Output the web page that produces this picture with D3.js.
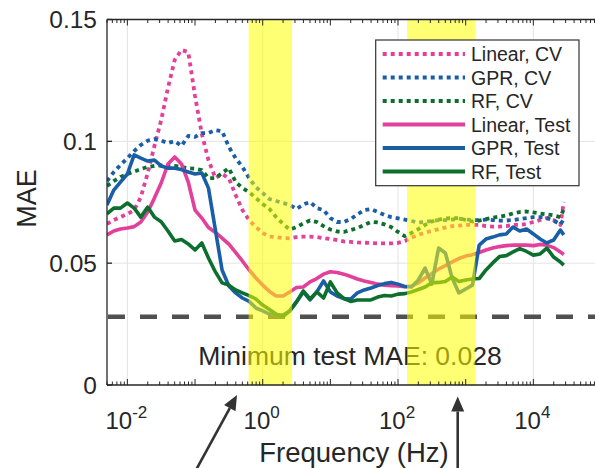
<!DOCTYPE html>
<html><head><meta charset="utf-8">
<script src="https://cdn.jsdelivr.net/npm/d3@7"></script>
<style>
body{margin:0;background:#fff}
svg{display:block}
text{font-family:"Liberation Sans",Arial,Helvetica,sans-serif;fill:#262626}
</style>
</head><body>
<svg id="c" width="595" height="468"></svg>
<script>
// ---------------- data ----------------
const freq = [0.005,0.0063,0.0079,0.01,0.0126,0.0158,0.02,0.0251,0.0316,0.0398,
  0.0501,0.0631,0.0794,0.1,0.126,0.158,0.2,0.251,0.316,0.398,
  0.501,0.631,0.794,1,1.26,1.58,2,2.51,3.16,3.98,
  5.01,6.31,7.94,10,12.6,15.8,20,25.1,31.6,39.8,
  50.1,63.1,79.4,100,126,158,200,251,316,398,
  501,631,794,1000,1259,1585,1995,2512,3162,3981,
  5012,6310,7943,10000,12589,15849,19953,25119,28184];

const linearCV = [0.0661,0.0677,0.0689,0.0702,0.0718,0.0771,0.0870,0.0981,0.1087,0.1219,
  0.1334,0.1375,0.1366,0.1186,0.1030,0.0923,0.0849,0.0866,0.0849,0.0780,
  0.0718,0.0677,0.0648,0.0624,0.0609,0.0607,0.0603,0.0602,0.0607,0.0609,
  0.0609,0.0607,0.0603,0.0599,0.0595,0.0589,0.0587,0.0585,0.0584,0.0583,
  0.0581,0.0581,0.0581,0.0583,0.0591,0.0605,0.0616,0.0626,0.0632,0.0640,
  0.0646,0.0652,0.0654,0.0657,0.0657,0.0657,0.0652,0.0650,0.0650,0.0652,
  0.0657,0.0657,0.0661,0.0669,0.0677,0.0685,0.0677,0.0657,0.0751];

const gprCV = [0.0837,0.0874,0.0903,0.0931,0.0960,0.0985,0.1003,0.1009,0.1003,0.0993,
  0.1001,0.0981,0.1022,0.1018,0.1034,0.1034,0.1046,0.1042,0.0977,0.0931,
  0.0895,0.0849,0.0812,0.0788,0.0763,0.0755,0.0747,0.0739,0.0722,0.0741,
  0.0751,0.0726,0.0718,0.0685,0.0669,0.0669,0.0681,0.0700,0.0718,0.0722,
  0.0710,0.0698,0.0689,0.0684,0.0679,0.0673,0.0667,0.0669,0.0673,0.0677,
  0.0677,0.0679,0.0683,0.0679,0.0677,0.0677,0.0679,0.0677,0.0675,0.0675,
  0.0677,0.0681,0.0685,0.0689,0.0689,0.0685,0.0675,0.0659,0.0681];

const rfCV = [0.0817,0.0837,0.0854,0.0866,0.0876,0.0886,0.0895,0.0899,0.0901,0.0899,
  0.0899,0.0895,0.0890,0.0888,0.0882,0.0849,0.0849,0.0870,0.0890,0.0833,
  0.0808,0.0792,0.0767,0.0743,0.0722,0.0689,0.0661,0.0638,0.0648,0.0663,
  0.0675,0.0669,0.0652,0.0638,0.0630,0.0628,0.0636,0.0644,0.0657,0.0669,
  0.0667,0.0659,0.0648,0.0628,0.0611,0.0624,0.0640,0.0657,0.0671,0.0679,
  0.0683,0.0685,0.0685,0.0677,0.0671,0.0675,0.0681,0.0687,0.0691,0.0696,
  0.0704,0.0710,0.0712,0.0708,0.0704,0.0700,0.0696,0.0689,0.0722];

const linearTest = [0.0616,0.0632,0.0640,0.0644,0.0650,0.0669,0.0710,0.0767,0.0829,0.0907,
  0.0936,0.0907,0.0833,0.0718,0.0685,0.0646,0.0626,0.0603,0.0578,0.0544,
  0.0509,0.0472,0.0439,0.0410,0.0384,0.0365,0.0365,0.0382,0.0400,0.0402,
  0.0423,0.0437,0.0455,0.0465,0.0462,0.0455,0.0445,0.0435,0.0427,0.0421,
  0.0414,0.0410,0.0408,0.0406,0.0403,0.0406,0.0419,0.0439,0.0458,0.0476,
  0.0490,0.0505,0.0519,0.0529,0.0535,0.0544,0.0554,0.0562,0.0568,0.0572,
  0.0574,0.0574,0.0574,0.0572,0.0577,0.0574,0.0564,0.0546,0.0535];

const gprTest = [0.0739,0.0800,0.0833,0.0866,0.0944,0.0931,0.0919,0.0923,0.0899,0.0890,
  0.0890,0.0884,0.0874,0.0866,0.0870,0.0808,0.0636,0.0472,0.0406,0.0378,
  0.0357,0.0343,0.0316,0.0304,0.0291,0.0287,0.0287,0.0304,0.0341,0.0382,
  0.0349,0.0382,0.0427,0.0382,0.0365,0.0355,0.0353,0.0378,0.0390,0.0398,
  0.0408,0.0416,0.0421,0.0414,0.0404,0.0402,0.0431,0.0480,0.0414,0.0562,
  0.0542,0.0439,0.0378,0.0394,0.0410,0.0574,0.0599,0.0607,0.0616,0.0620,
  0.0648,0.0632,0.0640,0.0620,0.0599,0.0583,0.0595,0.0636,0.0616];

const rfTest = [0.0702,0.0726,0.0726,0.0747,0.0726,0.0689,0.0730,0.0689,0.0670,0.0632,
  0.0591,0.0597,0.0579,0.0554,0.0583,0.0521,0.0464,0.0419,0.0410,0.0390,
  0.0378,0.0367,0.0353,0.0328,0.0310,0.0291,0.0281,0.0304,0.0341,0.0386,
  0.0353,0.0382,0.0357,0.0423,0.0378,0.0355,0.0343,0.0349,0.0349,0.0349,
  0.0361,0.0367,0.0365,0.0373,0.0375,0.0382,0.0392,0.0402,0.0419,0.0421,
  0.0425,0.0443,0.0425,0.0431,0.0435,0.0437,0.0472,0.0501,0.0527,0.0531,
  0.0546,0.0560,0.0548,0.0533,0.0538,0.0562,0.0525,0.0505,0.0492];

const seriesNames = ["Linear, CV","GPR, CV","RF, CV","Linear, Test","GPR, Test","RF, Test"];
const xTickValues = [0.01, 1, 100, 10000];
const xTickExponents = ["-2","0","2","4"];
const yTickValues = [0, 0.05, 0.1, 0.15];
const yTickLabels = ["0","0.05","0.1","0.15"];
const bandRanges = [[0.62, 2.72], [136, 1390]];
const minTestMAE = 0.028;
const annotationText = "Minimum test MAE: 0.028";
const xTitle = "Frequency (Hz)";
const yTitle = "MAE";

// ---------------- layout ----------------
const L = 107, R = 601, T = 19.5, B = 385;
const pink = "#e2409a", blue = "#1b5ea8", green = "#0d6f2e";
const axisCol = "#262626";

const x = d3.scaleLog().domain([0.005, 1e5]).range([L, R]);
const y = d3.scaleLinear().domain([0, 0.15]).range([B, T]);

const svg = d3.select("#c");
svg.append("defs").append("clipPath").attr("id","plot")
  .append("rect").attr("x", L).attr("y", T).attr("width", R - L).attr("height", B - T);

// grid
const grid = svg.append("g").attr("stroke", "#e3e3e3").attr("stroke-width", 1);
xTickValues.forEach(v => grid.append("line")
  .attr("x1", x(v)).attr("x2", x(v)).attr("y1", T).attr("y2", B));
[0.05, 0.1].forEach(v => grid.append("line")
  .attr("x1", L).attr("x2", R).attr("y1", y(v)).attr("y2", y(v)));

// minimum line
svg.append("line").attr("x1", L + 1).attr("x2", R).attr("y1", y(minTestMAE)).attr("y2", y(minTestMAE))
  .attr("stroke", "#505050").attr("stroke-width", 4.5).attr("stroke-dasharray", "17,15");

svg.append("text").attr("x", 350).attr("y", 365).attr("text-anchor", "middle")
  .attr("font-size", 26.5).attr("fill", "#111").text(annotationText);

// series
const series = [
  {v: linearCV, c: pink, d: "4,4"},
  {v: gprCV, c: blue, d: "4,4"},
  {v: rfCV, c: green, d: "4,4"},
  {v: linearTest, c: pink, d: null},
  {v: gprTest, c: blue, d: null},
  {v: rfTest, c: green, d: null}
];
const line = d3.line().x((d, i) => x(freq[i])).y(d => y(d));
const lg = svg.append("g").attr("clip-path", "url(#plot)");
series.forEach(s => {
  lg.append("path").datum(s.v).attr("d", line)
    .attr("fill", "none").attr("stroke", s.c)
    .attr("stroke-width", s.d ? 3.8 : 3.6)
    .attr("stroke-linejoin", "round")
    .attr("stroke-dasharray", s.d);
});

// highlight bands
bandRanges.forEach(b => svg.append("rect")
  .attr("x", x(b[0])).attr("width", x(b[1]) - x(b[0]))
  .attr("y", T).attr("height", B - T)
  .attr("fill", "#ffff00").attr("opacity", 0.55));

// axes
const ax = svg.append("g").attr("stroke", axisCol).attr("stroke-width", 1.3);
ax.append("line").attr("x1", L).attr("x2", L).attr("y1", T).attr("y2", B);
ax.append("line").attr("x1", L).attr("x2", R).attr("y1", B).attr("y2", B);
ax.append("line").attr("x1", L).attr("x2", R).attr("y1", T).attr("y2", T);
// y ticks inward
yTickValues.forEach(v => ax.append("line")
  .attr("x1", L).attr("x2", L + 5).attr("y1", y(v)).attr("y2", y(v)));
// x ticks (major + minor), bottom and top, inward
const minor = [];
for (let d = -3; d <= 5; d++) for (let m = 1; m <= 9; m++) {
  const v = m * Math.pow(10, d);
  if (v >= 0.005 && v <= 1e5) minor.push({v, major: m === 1});
}
const tg = svg.append("g").attr("stroke", axisCol).attr("stroke-width", 1);
minor.forEach(t => {
  const len = t.major ? 6 : 3.5;
  tg.append("line").attr("x1", x(t.v)).attr("x2", x(t.v)).attr("y1", B).attr("y2", B - len);
  tg.append("line").attr("x1", x(t.v)).attr("x2", x(t.v)).attr("y1", T).attr("y2", T + len);
});

// tick labels
yTickValues.forEach((v, i) => svg.append("text")
  .attr("x", 97).attr("y", y(v)).attr("dy", "0.36em")
  .attr("text-anchor", "end").attr("font-size", 24.5).text(yTickLabels[i]));
xTickValues.forEach((v, i) => {
  const t = svg.append("text").attr("x", x(v) - 1).attr("y", 428.5)
    .attr("text-anchor", "middle").attr("font-size", 24);
  t.append("tspan").text("10");
  t.append("tspan").attr("dy", -10.5).attr("font-size", 17).text(xTickExponents[i]);
});

// axis titles
svg.append("text").attr("x", 354).attr("y", 462).attr("text-anchor", "middle")
  .attr("font-size", 27.5).text(xTitle);
svg.append("text").attr("transform", "translate(35.5,198.5) rotate(-90)")
  .attr("text-anchor", "middle").attr("font-size", 27).text(yTitle);

// legend
const lx = 375.7, ly = 40, lw = 203.3, lh = 145.7;
const leg = svg.append("g");
leg.append("rect").attr("x", lx).attr("y", ly).attr("width", lw).attr("height", lh)
  .attr("fill", "#fff").attr("stroke", "#333").attr("stroke-width", 1.2);
series.forEach((s, i) => {
  const yy = 54 + i * 23.5;
  leg.append("line").attr("x1", 382.7).attr("x2", 465).attr("y1", yy).attr("y2", yy)
    .attr("stroke", s.c).attr("stroke-width", s.d ? 3.8 : 4.2).attr("stroke-dasharray", s.d);
  leg.append("text").attr("x", 471).attr("y", yy).attr("dy", "0.36em")
    .attr("font-size", 19.5).text(seriesNames[i]);
});

// arrows
function arrow(x1, y1, x2, y2) {
  const dx = x2 - x1, dy = y2 - y1, len = Math.hypot(dx, dy);
  const ux = dx / len, uy = dy / len, hl = 15, hw = 6.5;
  const bx = x2 - ux * hl, by = y2 - uy * hl;
  svg.append("line").attr("x1", x1).attr("y1", y1).attr("x2", bx).attr("y2", by)
    .attr("stroke", "#333").attr("stroke-width", 2.6);
  svg.append("path").attr("d",
    `M${x2},${y2}L${bx - uy * hw},${by + ux * hw}L${bx + uy * hw},${by - ux * hw}Z`)
    .attr("fill", "#333");
}
arrow(196, 470, 237, 395);
arrow(457.7, 470, 457.7, 396.5);
</script>
</body></html>
